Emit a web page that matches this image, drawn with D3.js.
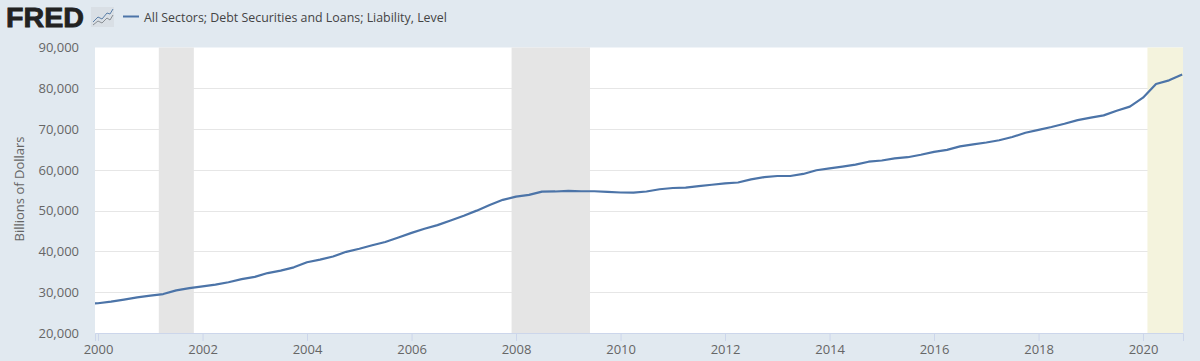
<!DOCTYPE html>
<html>
<head>
<meta charset="utf-8">
<script src="https://cdn.jsdelivr.net/npm/d3@7"></script>
<style>
    html, body { margin: 0; padding: 0; background: #e1e9f0; overflow: hidden; }
    text { font-family: "Open Sans", sans-serif; }
</style>
</head>
<body>
<div id="chart"></div>
<script>
// Quarterly values, first point is 1999 Q4 (clipped at the left edge of the plot)
const quarters = [
    '1999-10-01',
    '2000-01-01', '2000-04-01', '2000-07-01', '2000-10-01',
    '2001-01-01', '2001-04-01', '2001-07-01', '2001-10-01',
    '2002-01-01', '2002-04-01', '2002-07-01', '2002-10-01',
    '2003-01-01', '2003-04-01', '2003-07-01', '2003-10-01',
    '2004-01-01', '2004-04-01', '2004-07-01', '2004-10-01',
    '2005-01-01', '2005-04-01', '2005-07-01', '2005-10-01',
    '2006-01-01', '2006-04-01', '2006-07-01', '2006-10-01',
    '2007-01-01', '2007-04-01', '2007-07-01', '2007-10-01',
    '2008-01-01', '2008-04-01', '2008-07-01', '2008-10-01',
    '2009-01-01', '2009-04-01', '2009-07-01', '2009-10-01',
    '2010-01-01', '2010-04-01', '2010-07-01', '2010-10-01',
    '2011-01-01', '2011-04-01', '2011-07-01', '2011-10-01',
    '2012-01-01', '2012-04-01', '2012-07-01', '2012-10-01',
    '2013-01-01', '2013-04-01', '2013-07-01', '2013-10-01',
    '2014-01-01', '2014-04-01', '2014-07-01', '2014-10-01',
    '2015-01-01', '2015-04-01', '2015-07-01', '2015-10-01',
    '2016-01-01', '2016-04-01', '2016-07-01', '2016-10-01',
    '2017-01-01', '2017-04-01', '2017-07-01', '2017-10-01',
    '2018-01-01', '2018-04-01', '2018-07-01', '2018-10-01',
    '2019-01-01', '2019-04-01', '2019-07-01', '2019-10-01',
    '2020-01-01', '2020-04-01', '2020-07-01', '2020-10-01'
];
const debtValues = [
    27100,
    27300, 27700, 28200, 28750,
    29150, 29550, 30450, 31000,
    31450, 31870, 32440, 33200,
    33750, 34700, 35300, 36100,
    37350, 38000, 38750, 39900,
    40650, 41500, 42300, 43400,
    44550, 45550, 46450, 47600,
    48750, 50000, 51400, 52650,
    53450, 53850, 54650, 54700,
    54850, 54750, 54750, 54600,
    54450, 54400, 54700, 55250,
    55550, 55650, 56000, 56350,
    56700, 56900, 57650, 58200,
    58500, 58500, 59000, 59900,
    60350, 60800, 61300, 62000,
    62300, 62800, 63100, 63700,
    64400, 64900, 65750, 66250,
    66700, 67250, 68050, 69100,
    69800, 70500, 71300, 72200,
    72800, 73350, 74500, 75500,
    77700, 81050, 81950, 83400
];
const yTicks = [20000, 30000, 40000, 50000, 60000, 70000, 80000, 90000];
const xTickYears = [2000, 2002, 2004, 2006, 2008, 2010, 2012, 2014, 2016, 2018, 2020];
const recessions = [['2001-03-01', '2001-11-01'], ['2007-12-01', '2009-06-01']];
const covidStart = '2020-02-01';
const seriesName = 'All Sectors; Debt Securities and Loans; Liability, Level';
const yAxisTitle = 'Billions of Dollars';

const parseDate = d3.utcParse('%Y-%m-%d');
const data = quarters.map((q, i) => ({ date: parseDate(q), value: debtValues[i] }));

const width = 1200, height = 361;
const plot = { left: 95, right: 1183, top: 47.5, bottom: 333 };

const svg = d3.select('#chart').append('svg')
    .attr('width', width)
    .attr('height', height)
    .style('display', 'block');

svg.append('rect').attr('width', width).attr('height', height).attr('fill', '#e1e9f0');

// 2000-01-01 sits 3px right of the plot edge, the last quarter ends just short of the right edge
const xBase = d3.scaleUtc()
    .domain([parseDate('2000-01-01'), parseDate('2020-10-01')])
    .range([98, 1182.2]);
const x = d3.scaleUtc()
    .domain([xBase.invert(plot.left), xBase.invert(plot.right)])
    .range([plot.left, plot.right]);
const y = d3.scaleLinear().domain([20000, 90000]).range([plot.bottom, plot.top]);

svg.append('rect')
    .attr('x', plot.left).attr('y', plot.top)
    .attr('width', plot.right - plot.left).attr('height', plot.bottom - plot.top)
    .attr('fill', '#ffffff');

svg.append('defs').append('clipPath').attr('id', 'plot-clip')
    .append('rect')
    .attr('x', plot.left).attr('y', plot.top)
    .attr('width', plot.right - plot.left).attr('height', plot.bottom - plot.top);

// Grid
svg.append('g')
    .selectAll('line')
    .data(yTicks.slice(1, -1))
    .join('line')
    .attr('x1', plot.left).attr('x2', plot.right)
    .attr('y1', d => Math.round(y(d)) + 0.5).attr('y2', d => Math.round(y(d)) + 0.5)
    .attr('stroke', '#e6e6e6');

// Recession shading goes over the grid
const bands = svg.append('g');
recessions.forEach(r => {
    bands.append('rect')
        .attr('x', x(parseDate(r[0]))).attr('y', plot.top)
        .attr('width', x(parseDate(r[1])) - x(parseDate(r[0])))
        .attr('height', plot.bottom - plot.top)
        .attr('fill', '#e5e5e5');
});
bands.append('rect')
    .attr('x', x(parseDate(covidStart))).attr('y', plot.top)
    .attr('width', plot.right - x(parseDate(covidStart)))
    .attr('height', plot.bottom - plot.top)
    .attr('fill', '#f4f3dd');

// Axes
const yAxis = svg.append('g')
    .attr('transform', `translate(${plot.left},0)`)
    .call(d3.axisLeft(y).tickValues(yTicks).tickFormat(d3.format(',')).tickSize(0).tickPadding(16));
yAxis.select('.domain').remove();
yAxis.selectAll('text').attr('fill', '#666666').style('font-size', '13px');

const xAxis = svg.append('g')
    .attr('transform', `translate(0,${plot.bottom})`)
    .call(d3.axisBottom(x)
        .tickValues(xTickYears.map(yr => new Date(Date.UTC(yr, 0, 1))))
        .tickFormat(d3.utcFormat('%Y'))
        .tickSize(8).tickPadding(4));
xAxis.select('.domain').attr('stroke', '#ccd6eb');
xAxis.selectAll('line').attr('stroke', '#ccd6eb');
xAxis.selectAll('text').attr('fill', '#666666').style('font-size', '13px');

// Series
const line = d3.line().x(d => x(d.date)).y(d => y(d.value));
svg.append('path')
    .datum(data)
    .attr('clip-path', 'url(#plot-clip)')
    .attr('fill', 'none')
    .attr('stroke', '#4c74a8')
    .attr('stroke-width', 2.2)
    .attr('stroke-linejoin', 'round')
    .attr('d', line);

// Y title
svg.append('text')
    .attr('transform', 'translate(24,189) rotate(-90)')
    .attr('text-anchor', 'middle')
    .attr('fill', '#666666')
    .style('font-size', '13px')
    .text(yAxisTitle);

// Legend
svg.append('line')
    .attr('x1', 123).attr('x2', 139).attr('y1', 16.5).attr('y2', 16.5)
    .attr('stroke', '#4c74a8').attr('stroke-width', 2);
svg.append('text')
    .attr('x', 144).attr('y', 22)
    .attr('fill', '#444444')
    .style('font-size', '12.4px')
    .text(seriesName);

// FRED logo
const logo = svg.append('g');
logo.append('text')
    .attr('x', 6).attr('y', 27)
    .attr('textLength', 78).attr('lengthAdjust', 'spacingAndGlyphs')
    .attr('fill', '#222222').attr('stroke', '#222222').attr('stroke-width', 0.8)
    .style('font-family', '"Liberation Sans", sans-serif')
    .style('font-weight', 700)
    .style('font-size', '27px')
    .text('FRED');
logo.append('rect')
    .attr('x', 91).attr('y', 7).attr('width', 23).attr('height', 20)
    .attr('fill', '#d9dfe5');
logo.append('path')
    .attr('d', 'M93,22 L98,17 L102,19 L107,13 L110,14 L113,9')
    .attr('fill', 'none').attr('stroke', '#5b7fa8').attr('stroke-width', 1);
logo.append('path')
    .attr('d', 'M93,25 L98,21 L102,23 L107,18 L110,20 L113,15')
    .attr('fill', 'none').attr('stroke', '#8a8f94').attr('stroke-width', 1);
</script>
</body>
</html>
